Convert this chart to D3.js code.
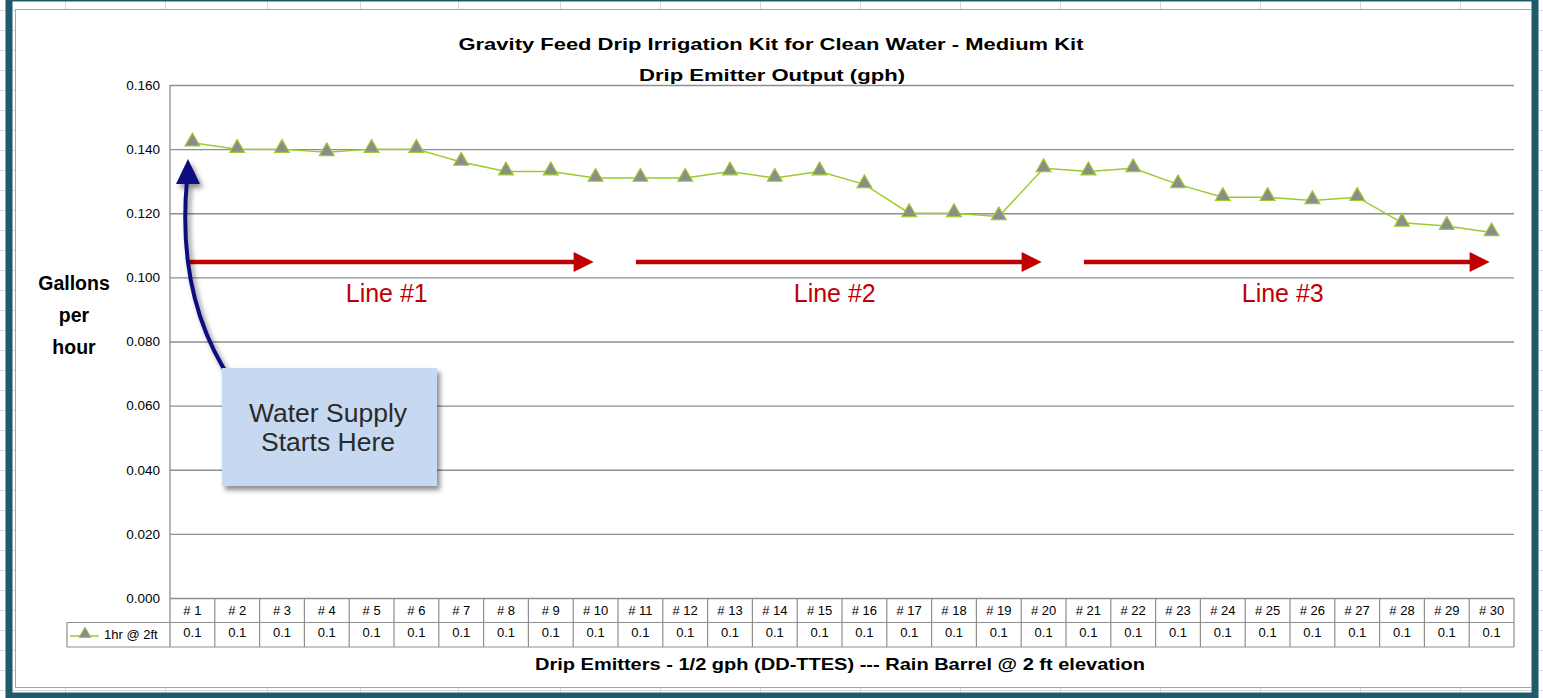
<!DOCTYPE html>
<html>
<head>
<style>
  body { margin: 0; background: #fff; }
  svg { display: block; }
  text { font-family: 'Liberation Sans', Arial, sans-serif; }
</style>
</head>
<body>
<svg id="chart"></svg>
<script src="https://cdn.jsdelivr.net/npm/d3@7"></script>
<script>

// data
var emitters = ["# 1","# 2","# 3","# 4","# 5","# 6","# 7","# 8","# 9","# 10",
                "# 11","# 12","# 13","# 14","# 15","# 16","# 17","# 18","# 19","# 20",
                "# 21","# 22","# 23","# 24","# 25","# 26","# 27","# 28","# 29","# 30"];
var output = [0.142,0.140,0.140,0.139,0.140,0.140,0.136,0.133,0.133,0.131,
              0.131,0.131,0.133,0.131,0.133,0.129,0.120,0.120,0.119,0.134,
              0.133,0.134,0.129,0.125,0.125,0.124,0.125,0.117,0.116,0.114];
var tableValues = ["0.1","0.1","0.1","0.1","0.1","0.1","0.1","0.1","0.1","0.1",
                   "0.1","0.1","0.1","0.1","0.1","0.1","0.1","0.1","0.1","0.1",
                   "0.1","0.1","0.1","0.1","0.1","0.1","0.1","0.1","0.1","0.1"];
var yTicks = [0, 0.02, 0.04, 0.06, 0.08, 0.10, 0.12, 0.14, 0.16];
var seriesName = "1hr @ 2ft";
var lineGroups = [
  {label: "Line #1", from: "# 1", to: "# 10"},
  {label: "Line #2", from: "# 11", to: "# 20"},
  {label: "Line #3", from: "# 21", to: "# 30"}
];

var W = 1543, H = 698;
var svg = d3.select("#chart").attr("width", W).attr("height", H);

// spreadsheet background with cell grid
svg.append("rect").attr("width", W).attr("height", H).attr("fill", "#fff");
var bg = svg.append("g").attr("stroke", "#d9d9d9").attr("stroke-width", 1);
d3.range(10, H, 20).forEach(function(yy) {
  bg.append("line").attr("x1", 0).attr("x2", W).attr("y1", yy + 0.5).attr("y2", yy + 0.5);
});
[65, 165, 267, 360, 458, 560, 660, 760, 860, 960, 1060, 1160, 1260, 1360, 1460].forEach(function(xx) {
  bg.append("line").attr("x1", xx + 0.5).attr("x2", xx + 0.5).attr("y1", 0).attr("y2", H);
});

// teal frame
svg.append("rect").attr("x", 9).attr("y", -2).attr("width", 1526).attr("height", 698)
  .attr("fill", "none").attr("stroke", "#1f5a6b").attr("stroke-width", 7);

// chart area
svg.append("rect").attr("x", 15.5).attr("y", 9.5).attr("width", 1516).attr("height", 678)
  .attr("fill", "#fff").attr("stroke", "#a6a6a6").attr("stroke-width", 1);

var x = d3.scaleBand().domain(emitters).range([170, 1514]);
var y = d3.scaleLinear().domain([0, 0.16]).range([598, 85]);
var gridCol = "#8e8e8e";

// gridlines
svg.append("g")
  .attr("transform", "translate(170,0)")
  .call(d3.axisLeft(y).tickValues(yTicks).tickSize(-(1514 - 170)).tickFormat(""))
  .call(function(g) {
    g.select(".domain").remove();
    g.selectAll("line").attr("stroke", gridCol).attr("stroke-width", 1.3);
  });

// y axis labels
svg.append("g")
  .attr("transform", "translate(170,0)")
  .call(d3.axisLeft(y).tickValues(yTicks).tickSize(0).tickPadding(10).tickFormat(d3.format(".3f")))
  .call(function(g) {
    g.select(".domain").remove();
    g.selectAll("text").attr("font-size", 13.5).attr("fill", "#000")
      .attr("font-family", "'Liberation Sans', Arial, sans-serif");
  });

// left axis line down through the table
svg.append("line").attr("x1", 170).attr("x2", 170).attr("y1", 85).attr("y2", 647)
  .attr("stroke", gridCol).attr("stroke-width", 1.3);

// data table
var tbl = svg.append("g").attr("stroke", gridCol).attr("stroke-width", 1.2);
emitters.forEach(function(d) {
  tbl.append("line").attr("x1", x(d) + x.bandwidth()).attr("x2", x(d) + x.bandwidth())
    .attr("y1", 598).attr("y2", 647);
});
tbl.append("line").attr("x1", 67).attr("x2", 1514).attr("y1", 622.5).attr("y2", 622.5);
tbl.append("line").attr("x1", 67).attr("x2", 1514).attr("y1", 647).attr("y2", 647);
tbl.append("line").attr("x1", 67).attr("x2", 67).attr("y1", 622.5).attr("y2", 647);

svg.append("g").selectAll("text").data(emitters).enter().append("text")
  .attr("x", function(d) { return x(d) + x.bandwidth() / 2; })
  .attr("y", 615)
  .attr("text-anchor", "middle").attr("font-size", 13).attr("fill", "#000")
  .text(function(d) { return d; });

svg.append("g").selectAll("text").data(tableValues).enter().append("text")
  .attr("x", function(d, i) { return x(emitters[i]) + x.bandwidth() / 2; })
  .attr("y", 637)
  .attr("text-anchor", "middle").attr("font-size", 13).attr("fill", "#000")
  .text(function(d) { return d; });

// legend key in table
var lineCol = "#9bcb2e";
var markFill = "#8c8c8c";
var tri = d3.symbol().type(d3.symbolTriangle).size(60);
svg.append("line").attr("x1", 70).attr("x2", 99).attr("y1", 636).attr("y2", 636)
  .attr("stroke", lineCol).attr("stroke-width", 1.5);
svg.append("path").attr("d", tri).attr("transform", "translate(85,634)")
  .attr("fill", markFill).attr("stroke", lineCol).attr("stroke-width", 1);
svg.append("text").attr("x", 104).attr("y", 639).attr("font-size", 13).attr("fill", "#000")
  .text(seriesName);

// series line
var pts = output.map(function(v, i) { return [x(emitters[i]) + x.bandwidth() / 2, y(v)]; });
svg.append("path").attr("d", d3.line()(pts))
  .attr("fill", "none").attr("stroke", lineCol).attr("stroke-width", 1.5);
svg.append("g").selectAll("path").data(pts).enter().append("path")
  .attr("d", d3.symbol().type(d3.symbolTriangle).size(95))
  .attr("transform", function(p) { return "translate(" + p[0] + "," + (p[1] - 1) + ")"; })
  .attr("fill", markFill).attr("stroke", lineCol).attr("stroke-width", 1.2);

// red line arrows
var red = "#c00000";
var arrowY = y(0.1048);
lineGroups.forEach(function(g) {
  var x0 = x(g.from) + x.bandwidth() * 0.4;
  var x1 = x(g.to) + x.bandwidth() / 2 - 2;
  svg.append("line").attr("x1", x0).attr("x2", x1 - 16).attr("y1", arrowY).attr("y2", arrowY)
    .attr("stroke", red).attr("stroke-width", 4.5);
  svg.append("path")
    .attr("d", "M" + x1 + "," + arrowY + "L" + (x1 - 20) + "," + (arrowY - 10) + "L" + (x1 - 20) + "," + (arrowY + 10) + "Z")
    .attr("fill", red);
  svg.append("text").attr("x", (x0 + x1) / 2 - 4).attr("y", 302)
    .attr("text-anchor", "middle").attr("font-size", 25).attr("fill", red)
    .text(g.label);
});

// shadow filter
var defs = svg.append("defs");
var f = defs.append("filter").attr("id", "shadow").attr("x", "-20%").attr("y", "-20%").attr("width", "150%").attr("height", "150%");
f.append("feDropShadow").attr("dx", 3).attr("dy", 4).attr("stdDeviation", 2.5)
  .attr("flood-color", "#000").attr("flood-opacity", 0.45);

// blue curved arrow
var navy = "#0d0d80";
var ag = svg.append("g").attr("filter", "url(#shadow)");
ag.append("path").attr("d", "M233,383 Q176,300 187,180")
  .attr("fill", "none").attr("stroke", navy).attr("stroke-width", 4).attr("stroke-linecap", "round");
ag.append("path").attr("d", "M188,159 L200,184 L176,184 Z").attr("fill", navy);

// callout box
svg.append("rect").attr("x", 222).attr("y", 368).attr("width", 215).attr("height", 118)
  .attr("fill", "#c6d9f1").attr("filter", "url(#shadow)");
svg.append("text").attr("x", 328).attr("y", 422).attr("text-anchor", "middle")
  .attr("font-size", 26.5).attr("fill", "#2a2a2a").text("Water Supply");
svg.append("text").attr("x", 328).attr("y", 451).attr("text-anchor", "middle")
  .attr("font-size", 26.5).attr("fill", "#2a2a2a").text("Starts Here");

// titles
svg.append("text").attr("x", 771).attr("y", 50).attr("text-anchor", "middle")
  .attr("font-size", 17).attr("font-weight", "bold").attr("fill", "#000")
  .attr("textLength", 625).attr("lengthAdjust", "spacingAndGlyphs")
  .text("Gravity Feed Drip Irrigation Kit for Clean Water - Medium Kit");
svg.append("text").attr("x", 772).attr("y", 81).attr("text-anchor", "middle")
  .attr("font-size", 17).attr("font-weight", "bold").attr("fill", "#000")
  .attr("textLength", 266).attr("lengthAdjust", "spacingAndGlyphs")
  .text("Drip Emitter Output (gph)");

// y title
["Gallons", "per", "hour"].forEach(function(t, i) {
  svg.append("text").attr("x", 74).attr("y", 290 + i * 32).attr("text-anchor", "middle")
    .attr("font-size", 19.5).attr("font-weight", "bold").attr("fill", "#000").text(t);
});

// x title
svg.append("text").attr("x", 840).attr("y", 670).attr("text-anchor", "middle")
  .attr("font-size", 16.5).attr("font-weight", "bold").attr("fill", "#000")
  .attr("textLength", 610).attr("lengthAdjust", "spacingAndGlyphs")
  .text("Drip Emitters - 1/2 gph (DD-TTES) --- Rain Barrel @ 2 ft elevation");

</script>
</body>
</html>
